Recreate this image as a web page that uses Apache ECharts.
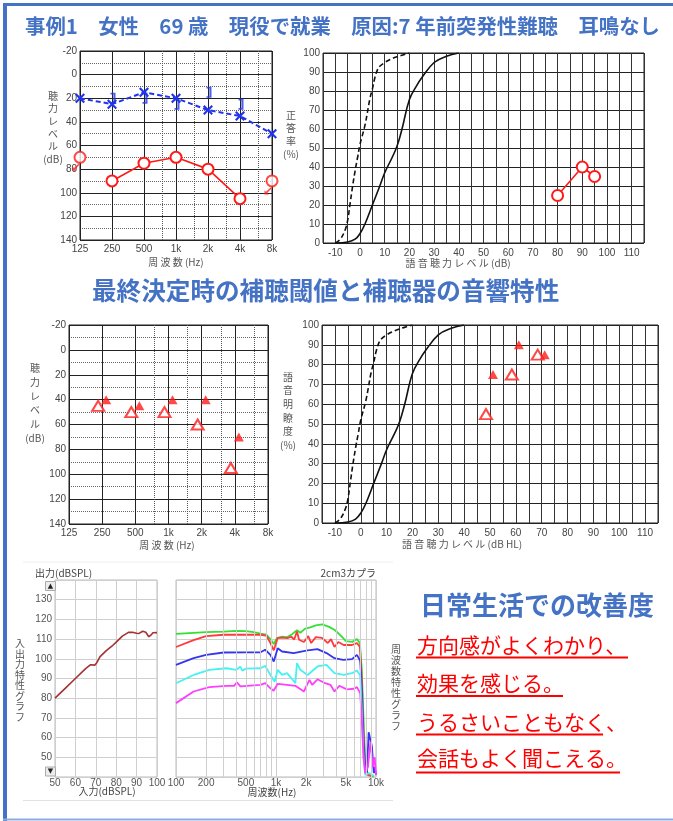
<!DOCTYPE html>
<html>
<head>
<meta charset="utf-8">
<script src="https://cdn.jsdelivr.net/npm/echarts@6/dist/echarts.min.js"></script>
<style>
  html, body { margin: 0; padding: 0; background: #fff; }
  #c { width: 673px; height: 821px; }
</style>
</head>
<body>
<div id="c"></div>
<script>
// ---------- data ----------
// audiogram frequencies
const freqs = [125, 250, 500, 1000, 2000, 4000, 8000];
const freqLabels = ['125', '250', '500', '1k', '2k', '4k', '8k'];
const halfOctaveLines = [750, 1500, 3000, 6000];

// initial audiogram (dB HL)
const leftAirDb = [20, 25, 15, 20, 30, 35, 50];
const leftBoneFreq = [250, 500, 1000, 2000, 4000];
const leftBoneDb = [20, 20, 25, 15, 25];
const rightAirFreq = [250, 500, 1000, 2000, 4000];
const rightAirDb = [90, 75, 70, 80, 105];
const rightScaleOutFreq = [125, 8000];
const rightScaleOutDb = [70, 90];

// speech audiometry reference curves [dB, %]
const refCurveDashed = [[-10, 0], [-8, 2], [-6, 7], [-5, 12], [-4, 21], [-3, 30], [-2, 38], [-1, 45], [0, 52], [2, 62], [4, 76], [5, 81], [6, 87], [7, 91], [8, 93], [10, 95], [12, 96.5], [15, 98], [20, 100]];
const refCurveSolid = [[-10, 0], [-5, 0.5], [-2, 2], [0, 5], [2, 10], [5, 20], [8, 30], [10, 37], [13, 45], [15, 51], [17, 60], [20, 75.5], [23, 83], [25, 87], [30, 95], [35, 98.3], [40, 100]];
const speechLevels = [80, 90, 95];
const speechScores = [25, 40, 35];

// aided thresholds
const aidedFreq = [250, 500, 1000, 2000, 4000];
const aidedOpenDb = [45, 50, 50, 60, 95];
const aidedFilledDb = [40, 45, 40, 40, 70];

// aided speech discrimination
const aidedSpeechLevels = [50, 60, 70];
const aidedSpeechOpen = [55, 75, 85];
const aidedSpeechFilled = [75, 90, 85];

// input / output characteristic (dB SPL)
const ioInput = [50, 55, 60, 65, 67.5, 69.5, 70.5, 72, 75, 78, 80, 83, 86, 88, 90, 91, 93, 94.5, 96, 97, 98, 100];
const ioOutput = [80, 85, 90, 95, 97, 96.8, 98, 101, 104, 106.5, 108.5, 111.5, 113.4, 113.5, 113, 112.8, 114, 113.5, 111.2, 112, 113.2, 113.3];

// frequency response, 2cc coupler [Hz, dB SPL]
const respGreen = [[100, 112.7], [150, 113.2], [200, 113.5], [300, 113.8], [400, 114.2], [500, 114], [600, 113.5], [700, 112.8], [800, 112.3], [880, 110], [950, 107.5], [1020, 110.5], [1150, 111.2], [1300, 111], [1450, 112.5], [1620, 114.5], [1750, 113.2], [1960, 115.3], [2200, 116], [2500, 117], [2900, 117.5], [3400, 116.2], [3900, 114.5], [4500, 111.5], [5000, 109], [5800, 108.6], [6450, 110], [6900, 108], [7200, 95], [7500, 70], [7800, 48], [8200, 42], [9500, 40]];
const respRed = [[100, 106], [150, 109.5], [200, 111.5], [300, 112.2], [500, 112.3], [700, 112.2], [800, 111.8], [880, 108], [950, 104.3], [1040, 110.6], [1150, 110.8], [1300, 110.5], [1420, 111.2], [1520, 109.8], [1620, 113.9], [1700, 109.7], [1900, 108.5], [2100, 111.5], [2250, 108], [2500, 111], [2880, 110.6], [3300, 108], [3550, 110], [3840, 106], [4200, 108.5], [4750, 107], [5750, 107], [6450, 108], [6900, 106], [7200, 90], [7500, 62], [7800, 45], [8300, 41], [9000, 40.5]];
const respBlue = [[100, 96.9], [150, 100.3], [200, 102], [300, 103.2], [500, 103.3], [700, 103.3], [780, 104.6], [880, 102], [950, 98.6], [1040, 105.4], [1150, 103.7], [1500, 102.9], [2070, 104.3], [2600, 104.9], [3200, 102.9], [3840, 100.3], [4700, 99.5], [5750, 99.8], [6450, 102], [6950, 99], [7200, 85], [7500, 58], [7800, 44], [8100, 42], [8450, 62.7], [9100, 55.5], [9500, 42], [9700, 45], [10000, 41]];
const respCyan = [[100, 87.6], [150, 91.8], [215, 94.4], [320, 95.2], [400, 94.4], [440, 96], [460, 94], [500, 95], [700, 95.2], [780, 96.4], [880, 91.8], [970, 88.4], [1040, 94.4], [1150, 91.8], [1290, 92.7], [1430, 90.1], [1560, 87.6], [1620, 97.8], [1750, 94.4], [2070, 91.8], [2600, 96.1], [3200, 96.9], [3840, 92.7], [4750, 91.8], [5750, 92.7], [6450, 94.1], [6950, 91.5], [7200, 75], [7500, 50], [7800, 41], [8500, 42], [9200, 41], [9600, 40.5]];
const respMagenta = [[100, 77.5], [150, 83.4], [215, 85.6], [320, 86.3], [380, 86.3], [407, 88], [440, 86], [697, 86.8], [780, 87.6], [880, 85], [946, 83.8], [1040, 87.3], [1290, 86.8], [1560, 86.3], [1900, 83.4], [2160, 89.3], [2300, 86.8], [2600, 89.6], [3100, 87.6], [3500, 86.8], [3840, 83.4], [4300, 86.3], [5100, 84.5], [6000, 84.8], [6450, 85.6], [6950, 82.6], [7200, 70], [7500, 50], [7800, 42], [8300, 45], [8800, 58], [9300, 45], [9700, 50], [10000, 41]];
const respLabelFreqs = [100, 200, 500, 1000, 2000, 5000, 10000];
const respGridFreqs = [200, 300, 400, 500, 600, 700, 800, 900, 2000, 3000, 4000, 5000, 6000, 7000, 8000, 9000];

// ---------- styling ----------
const JP = '"Noto Sans CJK JP", "Noto Sans", sans-serif';
const NUM = '"Liberation Sans", Arial, sans-serif';
const BLUE_TITLE = '#4472c4';
const RED = '#ff1a1a';
const MARK_BLUE = '#1f35ee';

const octave = f => Math.log2(f / 125);

const SYM_X = 'path://M1.5,0 L5,3.5 L8.5,0 L10,1.5 L6.5,5 L10,8.5 L8.5,10 L5,6.5 L1.5,10 L0,8.5 L3.5,5 L0,1.5 Z';
const SYM_BRACKET = 'path://M0,0 L6,0 L6,16 L0,16 L0,13.5 L3.5,13.5 L3.5,2.5 L0,2.5 Z';
const SYM_ARROW = 'path://M0,10 L0,4 L2.1,6.1 L8.6,0 L10,1.4 L3.9,7.9 L6,10 Z';

function audXAxis(gi) {
  return {
    gridIndex: gi, type: 'value', min: 0, max: 6, interval: 1,
    axisLine: { show: false }, axisTick: { show: false },
    axisLabel: { formatter: v => freqLabels[v] || '', color: '#444', fontSize: 10, fontFamily: NUM, margin: 4 },
    splitLine: { show: true, lineStyle: { color: '#222', width: 1 } }
  };
}
function audYAxis(gi) {
  return {
    gridIndex: gi, type: 'value', inverse: true, min: -20, max: 140, interval: 20,
    axisLine: { show: false }, axisTick: { show: false },
    axisLabel: { color: '#444', fontSize: 10, fontFamily: NUM, margin: 3 },
    splitLine: { show: true, lineStyle: { color: '#222', width: 1 } },
    minorTick: { show: false, splitNumber: 2 },
    minorSplitLine: { show: true, lineStyle: { color: '#666', width: 1, type: 'dotted' } }
  };
}
function spXAxis(gi) {
  return {
    gridIndex: gi, type: 'value', min: -15, max: 115, interval: 5,
    axisLine: { show: false }, axisTick: { show: false },
    axisLabel: { formatter: v => (v % 10 === 0 && v > -15 && v < 115) ? String(v) : '', color: '#444', fontSize: 10, fontFamily: NUM, margin: 5 },
    splitLine: { show: true, lineStyle: { color: '#333', width: 1 } }
  };
}
function spYAxis(gi) {
  return {
    gridIndex: gi, type: 'value', min: 0, max: 100, interval: 10,
    axisLine: { show: false }, axisTick: { show: false },
    axisLabel: { color: '#444', fontSize: 10, fontFamily: NUM, margin: 3 },
    splitLine: { show: true, lineStyle: { color: '#222', width: 1 } }
  };
}

function dottedVerticals(xi) {
  return {
    type: 'line', xAxisIndex: xi, yAxisIndex: xi, data: [], silent: true,
    markLine: {
      silent: true, symbol: ['none', 'none'], label: { show: false },
      lineStyle: { color: '#555', width: 1, type: 'dotted' },
      data: halfOctaveLines.map(f => ({ xAxis: octave(f) }))
    }
  };
}

const respColors = ['#33e033', '#ff3a3a', '#3535f0', '#44f2f2', '#ff3dff'];
const respSets = [respGreen, respRed, respBlue, respCyan, respMagenta];

const series = [
  // ---- grid 0: initial audiogram ----
  dottedVerticals(0),
  {
    type: 'line', xAxisIndex: 0, yAxisIndex: 0,
    data: freqs.map((f, i) => [octave(f), leftAirDb[i]]),
    symbol: SYM_X, symbolSize: 10,
    itemStyle: { color: MARK_BLUE },
    lineStyle: { color: MARK_BLUE, width: 2, type: [5, 3] }, z: 5
  },
  {
    type: 'scatter', xAxisIndex: 0, yAxisIndex: 0,
    data: leftBoneFreq.map((f, i) => [octave(f), leftBoneDb[i]]),
    symbol: SYM_BRACKET, symbolSize: [5, 11], symbolOffset: [1, 0],
    itemStyle: { color: MARK_BLUE }, z: 5
  },
  {
    type: 'line', xAxisIndex: 0, yAxisIndex: 0,
    data: rightAirFreq.map((f, i) => [octave(f), rightAirDb[i]]),
    symbol: 'emptyCircle', symbolSize: 11,
    itemStyle: { color: RED, borderWidth: 1.8 },
    lineStyle: { color: RED, width: 1.6 }, z: 6
  },
  {
    type: 'scatter', xAxisIndex: 0, yAxisIndex: 0,
    data: rightScaleOutFreq.map((f, i) => [octave(f), rightScaleOutDb[i]]),
    symbol: 'emptyCircle', symbolSize: 11,
    itemStyle: { color: RED, borderWidth: 1.8 }, z: 6
  },
  {
    type: 'scatter', xAxisIndex: 0, yAxisIndex: 0,
    data: rightScaleOutFreq.map((f, i) => [octave(f), rightScaleOutDb[i]]),
    symbol: SYM_ARROW, symbolSize: [7, 7], symbolOffset: [-4, 10],
    itemStyle: { color: RED }, z: 6
  },

  // ---- grid 1: speech audiometry ----
  {
    type: 'line', xAxisIndex: 1, yAxisIndex: 1, data: refCurveDashed, smooth: 0.4,
    symbol: 'none', lineStyle: { color: '#111', width: 1.6, type: [5, 3] }
  },
  {
    type: 'line', xAxisIndex: 1, yAxisIndex: 1, data: refCurveSolid, smooth: 0.4,
    symbol: 'none', lineStyle: { color: '#111', width: 1.6 }
  },
  {
    type: 'line', xAxisIndex: 1, yAxisIndex: 1,
    data: speechLevels.map((v, i) => [v, speechScores[i]]),
    symbol: 'emptyCircle', symbolSize: 11,
    itemStyle: { color: RED, borderWidth: 1.8 },
    lineStyle: { color: RED, width: 1.6 }, z: 6
  },

  // ---- grid 2: aided thresholds ----
  dottedVerticals(2),
  {
    type: 'scatter', xAxisIndex: 2, yAxisIndex: 2,
    data: aidedFreq.map((f, i) => [octave(f), aidedOpenDb[i]]),
    symbol: 'emptyTriangle', symbolSize: [12, 10], symbolOffset: [-4, 0],
    itemStyle: { color: RED, borderWidth: 2 }, z: 6
  },
  {
    type: 'scatter', xAxisIndex: 2, yAxisIndex: 2,
    data: aidedFreq.map((f, i) => [octave(f), aidedFilledDb[i]]),
    symbol: 'triangle', symbolSize: [10, 9], symbolOffset: [4, 0],
    itemStyle: { color: RED }, z: 6
  },

  // ---- grid 3: aided speech ----
  {
    type: 'line', xAxisIndex: 3, yAxisIndex: 3, data: refCurveDashed, smooth: 0.4,
    symbol: 'none', lineStyle: { color: '#111', width: 1.6, type: [5, 3] }
  },
  {
    type: 'line', xAxisIndex: 3, yAxisIndex: 3, data: refCurveSolid, smooth: 0.4,
    symbol: 'none', lineStyle: { color: '#111', width: 1.6 }
  },
  {
    type: 'scatter', xAxisIndex: 3, yAxisIndex: 3,
    data: aidedSpeechLevels.map((v, i) => [v, aidedSpeechOpen[i]]),
    symbol: 'emptyTriangle', symbolSize: [12, 10], symbolOffset: [-4, 0],
    itemStyle: { color: RED, borderWidth: 2 }, z: 6
  },
  {
    type: 'scatter', xAxisIndex: 3, yAxisIndex: 3,
    data: aidedSpeechLevels.map((v, i) => [v, aidedSpeechFilled[i]]),
    symbol: 'triangle', symbolSize: [10, 9], symbolOffset: [3, 0],
    itemStyle: { color: RED }, z: 6
  },

  // ---- grid 4: input/output ----
  {
    type: 'line', xAxisIndex: 4, yAxisIndex: 4,
    data: ioInput.map((v, i) => [v, ioOutput[i]]),
    symbol: 'none', lineStyle: { color: '#a33232', width: 1.6 }
  },

  // ---- grid 5: frequency response ----
  {
    type: 'line', xAxisIndex: 5, yAxisIndex: 5, data: [], silent: true,
    markLine: {
      silent: true, symbol: ['none', 'none'], label: { show: false },
      lineStyle: { color: '#cfcfcf', width: 1, type: 'solid' },
      data: respGridFreqs.map(f => ({ xAxis: f }))
    }
  }
].concat(respSets.map((d, i) => ({
  type: 'line', xAxisIndex: 5, yAxisIndex: 5, data: d,
  symbol: 'none', lineStyle: { color: respColors[i], width: 1.8 }
})));

// ---------- page text and decorations ----------
function txt(text, x, y, opts) {
  return {
    type: 'text', x: x, y: y, silent: true, z: 10,
    style: Object.assign({
      text: text, fill: '#555', fontSize: 11, fontFamily: JP,
      align: 'center', verticalAlign: 'middle'
    }, opts || {})
  };
}
function line(x1, y1, x2, y2, stroke, w) {
  return { type: 'line', silent: true, z: 10, shape: { x1, y1, x2, y2 }, style: { stroke, lineWidth: w } };
}

const graphics = [
  // frame
  line(3, 4.5, 673, 4.5, BLUE_TITLE, 3),
  line(5, 3, 5, 821, BLUE_TITLE, 4),
  line(3, 819.5, 673, 819.5, '#8faadc', 2),

  // headings
  txt('事例1　女性　69 歳　現役で就業　原因:7 年前突発性難聴　耳鳴なし', 25, 26,
      { fill: BLUE_TITLE, fontSize: 20.4, fontWeight: 'bold', align: 'left' }),
  txt('最終決定時の補聴閾値と補聴器の音響特性', 92, 291,
      { fill: BLUE_TITLE, fontSize: 24.6, fontWeight: 'bold', align: 'left' }),
  txt('日常生活での改善度', 420, 605,
      { fill: BLUE_TITLE, fontSize: 26, fontWeight: 'bold', align: 'left' }),

  // comments
  txt('方向感がよくわかり、', 417, 645, { fill: '#ff0000', fontSize: 21, align: 'left' }),
  txt('効果を感じる。', 417, 683, { fill: '#ff0000', fontSize: 21, align: 'left' }),
  txt('うるさいこともなく、', 417, 722, { fill: '#ff0000', fontSize: 21, align: 'left' }),
  txt('会話もよく聞こえる。', 417, 758, { fill: '#ff0000', fontSize: 21, align: 'left' }),
  line(416, 657.5, 628, 657.5, '#ff0000', 2),
  line(416, 696, 563, 696, '#ff0000', 2),
  line(416, 734.5, 603, 734.5, '#ff0000', 2),
  line(416, 772.5, 620, 772.5, '#ff0000', 2),

  // axis names, top row
  txt('聴\n力\nレ\nベ\nル\n(dB)', 53, 127.5, { lineHeight: 12.6, fontSize: 10 }),
  txt('正\n答\n率\n(%)', 291, 135, { lineHeight: 13, fontSize: 10 }),
  txt('周 波 数 (Hz)', 176, 262, { fontSize: 10 }),
  txt('語 音 聴 力 レ ベ ル (dB)', 458, 263, { fontSize: 10 }),

  // axis names, middle row
  txt('聴\n力\nレ\nベ\nル\n(dB)', 35, 403, { lineHeight: 14, fontSize: 10 }),
  txt('語\n音\n明\n瞭\n度\n(%)', 288, 411, { lineHeight: 13.6, fontSize: 10 }),
  txt('周 波 数 (Hz)', 167, 545, { fontSize: 10 }),
  txt('語 音 聴 力 レ ベ ル (dB HL)', 462, 544.5, { fontSize: 10 }),

  // bottom row captions
  txt('出力(dBSPL)', 35, 573.5, { fontSize: 10, align: 'left', fill: '#444' }),
  txt('2cm3カプラ', 376, 573.5, { fontSize: 10, align: 'right', fill: '#444' }),
  txt('入力(dBSPL)', 107, 791, { fontSize: 10, fill: '#444' }),
  txt('周波数(Hz)', 272, 792.5, { fontSize: 10, fill: '#444' }),
  txt('入\n出\n力\n特\n性\nグ\nラ\nフ', 20, 680, { fontSize: 10, lineHeight: 10.5, fill: '#555' }),
  txt('周\n波\n数\n特\n性\nグ\nラ\nフ', 396, 688, { fontSize: 10, lineHeight: 11, fill: '#555' }),

  // level buttons on the I/O chart
  { type: 'rect', silent: true, z: 10, shape: { x: 45.5, y: 581.5, width: 10, height: 9 }, style: { fill: '#ececec', stroke: '#aaa', lineWidth: 1 } },
  txt('▲', 50.5, 586, { fontSize: 7, fill: '#222', fontFamily: '"DejaVu Sans", sans-serif' }),
  { type: 'rect', silent: true, z: 10, shape: { x: 45.5, y: 767, width: 10, height: 9 }, style: { fill: '#ececec', stroke: '#aaa', lineWidth: 1 } },
  txt('▼', 50.5, 771.5, { fontSize: 7, fill: '#222', fontFamily: '"DejaVu Sans", sans-serif' }),

  // faint panel rules
  line(23, 562, 393, 562, '#eeeeee', 1),
  line(23, 800.5, 393, 800.5, '#e2e2e2', 1)
];

const option = {
  animation: false,
  backgroundColor: '#fff',
  grid: [
    { left: 80, top: 51, width: 192, height: 189, show: true, borderColor: '#222', borderWidth: 1, backgroundColor: 'transparent' },
    { left: 323, top: 53, width: 321, height: 190, show: true, borderColor: '#222', borderWidth: 1, backgroundColor: 'transparent' },
    { left: 69, top: 325, width: 199, height: 199, show: true, borderColor: '#222', borderWidth: 1, backgroundColor: 'transparent' },
    { left: 322, top: 325, width: 336, height: 198, show: true, borderColor: '#222', borderWidth: 1, backgroundColor: 'transparent' },
    { left: 55, top: 580, width: 102, height: 197, show: true, borderColor: '#bbb', borderWidth: 1, backgroundColor: 'transparent' },
    { left: 176, top: 580, width: 200, height: 197, show: true, borderColor: '#bbb', borderWidth: 1, backgroundColor: 'transparent' }
  ],
  xAxis: [
    audXAxis(0),
    spXAxis(1),
    audXAxis(2),
    spXAxis(3),
    {
      gridIndex: 4, type: 'value', min: 50, max: 100, interval: 10,
      axisLine: { show: false }, axisTick: { show: false },
      axisLabel: { color: '#555', fontSize: 10, fontFamily: NUM, margin: 1 },
      splitLine: { show: true, lineStyle: { color: '#cfcfcf', width: 1 } }
    },
    {
      gridIndex: 5, type: 'log', logBase: 10, min: 100, max: 10000,
      axisLine: { show: false }, axisTick: { show: false },
      axisLabel: {
        customValues: respLabelFreqs,
        formatter: v => v >= 1000 ? (v / 1000) + 'k' : String(v),
        color: '#555', fontSize: 10, fontFamily: NUM, margin: 1
      },
      splitLine: { show: true, lineStyle: { color: '#cfcfcf', width: 1 } }
    }
  ],
  yAxis: [
    audYAxis(0),
    spYAxis(1),
    audYAxis(2),
    spYAxis(3),
    {
      gridIndex: 4, type: 'value', min: 40, max: 140, interval: 10,
      axisLine: { show: false }, axisTick: { show: false },
      axisLabel: { formatter: v => (v === 40 || v === 140) ? '' : String(v), color: '#555', fontSize: 10, fontFamily: NUM, margin: 3 },
      splitLine: { show: true, lineStyle: { color: '#cfcfcf', width: 1 } }
    },
    {
      gridIndex: 5, type: 'value', min: 40, max: 140, interval: 10,
      axisLine: { show: false }, axisTick: { show: false }, axisLabel: { show: false },
      splitLine: { show: true, lineStyle: { color: '#cfcfcf', width: 1 } }
    }
  ],
  series: series,
  graphic: graphics
};

const chart = echarts.init(document.getElementById('c'), null, { renderer: 'canvas' });
chart.setOption(option);
</script>
</body>
</html>
